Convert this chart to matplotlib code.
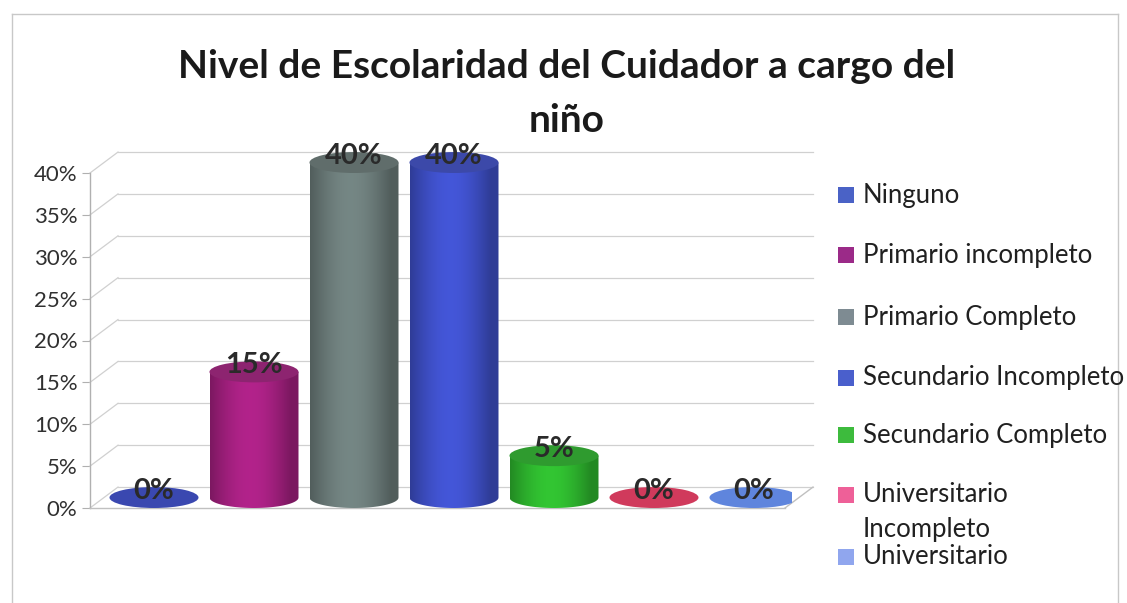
import numpy as np
import matplotlib
matplotlib.use("Agg")
import matplotlib.pyplot as plt
from matplotlib.patches import Ellipse, Rectangle, PathPatch
from matplotlib.path import Path
import matplotlib.colors as mcolors

plt.rcParams['font.family'] = ['Lato', 'DejaVu Sans']

# datos
categorias = ["Ninguno", "Primario incompleto", "Primario Completo",
              "Secundario Incompleto", "Secundario Completo",
              "Universitario\nIncompleto", "Universitario"]
valores = [0.0, 0.15, 0.40, 0.40, 0.05, 0.0, 0.0]
etiquetas = ["0%", "15%", "40%", "40%", "5%", "0%", "0%"]
ticks = [0, 0.05, 0.10, 0.15, 0.20, 0.25, 0.30, 0.35, 0.40]
tick_labels = ["0%", "5%", "10%", "15%", "20%", "25%", "30%", "35%", "40%"]

col_barra = ["#3a48b0", "#a3207f", "#6b7b79", "#3e4fc6", "#2eb52e", "#d03a5c", "#5f85dd"]
col_leyenda = ["#4a62c6", "#9b2a88", "#7e8b92", "#4a5fcc", "#3dbb3d", "#ee6098", "#90a6ee"]

fig = plt.figure(figsize=[11.27, 6.03], dpi=100)
W, H = 1127, 603

# marco del grafico
fig.add_artist(plt.Line2D([12/W, 12/W], [0, 1-14/H], color="#c8c8c8", lw=1))
fig.add_artist(plt.Line2D([1118/W, 1118/W], [0, 1-14/H], color="#c8c8c8", lw=1))
fig.add_artist(plt.Line2D([12/W, 1118/W], [1-14/H, 1-14/H], color="#c8c8c8", lw=1))

# eje: 0 en y=508px, 0.40 en y=173px -> 0.43 en ~148px
ytop = 0.43
ax = fig.add_axes([90/W, 1-508/H, 702/W, ytop*837.5/H])
ax.set_xlim(-0.5, 6.52)
ax.set_ylim(0, ytop)
ax.set_autoscale_on(False)
for s in ax.spines.values():
    s.set_visible(False)
ax.set_xticks([])
ax.set_yticks(ticks)
ax.set_yticklabels(tick_labels, fontsize=16, color="#303030")
ax.tick_params(axis="y", length=6, color="#b0b0b0", pad=3)
ax.patch.set_alpha(0)

# profundidad 3D
dx, dy = 0.28, 0.025
gc = "#d0d0d0"
for t in ticks:
    ax.plot([-0.5, -0.5+dx], [t, t+dy], color=gc, lw=0.9, clip_on=False)
    ax.plot([-0.5+dx, 6.45+dx], [t+dy, t+dy], color=gc, lw=0.9, clip_on=False)
ax.plot([-0.5, -0.5], [0, 0.40], color="#b0b0b0", lw=1, clip_on=False)
ax.plot([-0.5, 6.45], [0, 0], color="#c0c0c0", lw=1, clip_on=False)
ax.plot([6.45, 6.45+dx], [0, dy], color="#c0c0c0", lw=1, clip_on=False)

# cilindros
bw = 0.89
grad = np.linspace(0, 1, 256)
shade = 0.8 + 0.35*np.sin(np.pi*np.clip(grad*1.1, 0, 1))
for i, v in enumerate(valores):
    cx = i + dx/2
    y0 = dy/2
    y1 = v + dy/2
    base = np.array(mcolors.to_rgb(col_barra[i]))
    if v > 0:
        # cuerpo con gradiente
        th = np.linspace(np.pi, 2*np.pi, 60)
        ex = cx + bw/2*np.cos(th)
        ey = y0 + dy/2*np.sin(th)
        verts = [(cx-bw/2, y1)] + list(zip(ex, ey)) + [(cx+bw/2, y1), (cx-bw/2, y1)]
        path = Path(verts)
        body = PathPatch(path, facecolor="none", edgecolor="none")
        ax.add_patch(body)
        img = np.clip(base[None, :]*shade[:, None]*0.95, 0, 1)
        img = img[None, :, :]
        im = ax.imshow(img, extent=[cx-bw/2, cx+bw/2, 0, y1], aspect="auto",
                       interpolation="bilinear", zorder=2)
        im.set_clip_path(body)
        top = np.clip(base*0.8 + 0.04, 0, 1)
        ax.add_patch(Ellipse((cx, y1), bw, dy, facecolor=top, edgecolor="none", zorder=3))
    else:
        ax.add_patch(Ellipse((cx, y1), bw, dy, facecolor=base, edgecolor="none", zorder=3))
    ax.text(cx, y1 + 0.008, etiquetas[i], ha="center", va="center", fontsize=21,
            fontweight="bold", color="#2a2a2a", zorder=5)

# titulo
fig.text(567/W, 1-66/H, "Nivel de Escolaridad del Cuidador a cargo del",
         ha="center", va="center", fontsize=28, fontweight="bold", color="#1a1a1a")
fig.text(567/W, 1-121/H, "niño", ha="center", va="center", fontsize=28,
         fontweight="bold", color="#1a1a1a")

# leyenda
ley_y = [195, 255, 317, 378, 435, 495, 557]
for i, nom in enumerate(categorias):
    y = ley_y[i]
    fig.add_artist(Rectangle((838/W, 1-(y+8)/H), 16/W, 16/H,
                             facecolor=col_leyenda[i], edgecolor="none"))
    if "\n" in nom:
        a, b = nom.split("\n")
        fig.text(863/W, 1-y/H, a, ha="left", va="center", fontsize=18.5, color="#202020")
        fig.text(863/W, 1-(y+34)/H, b, ha="left", va="center", fontsize=18.5, color="#202020")
    else:
        fig.text(863/W, 1-y/H, nom, ha="left", va="center", fontsize=18.5, color="#202020")

fig.savefig("out.png", dpi=100)
